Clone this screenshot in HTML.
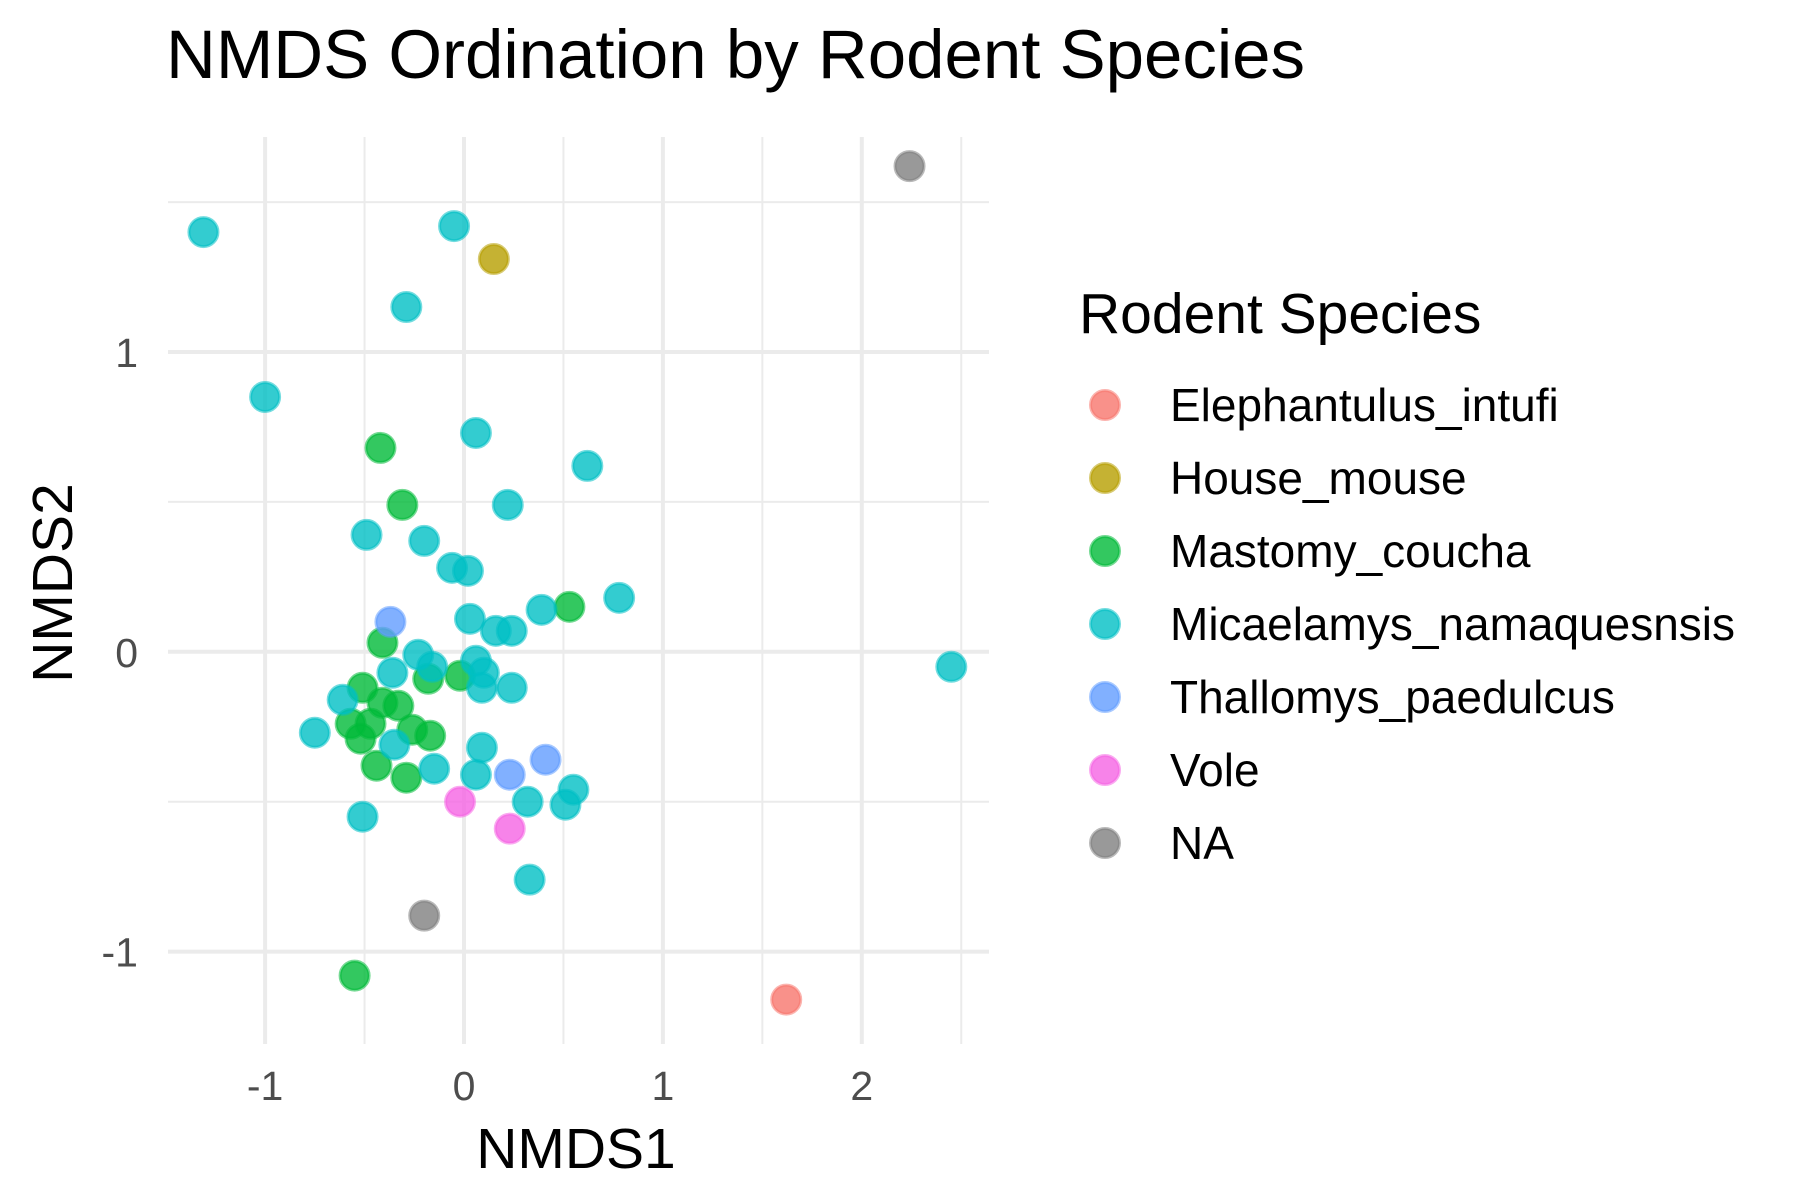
<!DOCTYPE html>
<html><head><meta charset="utf-8"><style>
body{margin:0;background:#fff;}
svg{display:block;font-family:"Liberation Sans",Arial,sans-serif;}
</style></head><body>
<svg id="chart" width="1800" height="1200" viewBox="0 0 1800 1200">
<text x="166" y="78" font-size="69" fill="#000">NMDS Ordination by Rodent Species</text>
<g id="grid"></g>
<g id="ticks"></g>
<g id="points"></g>
<text x="576" y="1168" font-size="57" text-anchor="middle" fill="#000">NMDS1</text>
<text transform="translate(72,583) rotate(-90)" font-size="57" text-anchor="middle" fill="#000">NMDS2</text>
<text x="1079" y="333" font-size="57" fill="#000">Rodent Species</text>
<g id="legend"></g>
</svg>
<script>
const species=["Elephantulus_intufi","House_mouse","Mastomy_coucha","Micaelamys_namaquesnsis","Thallomys_paedulcus","Vole","NA"];
const colors=["#F8766D","#B79F00","#00BA38","#00BFC4","#619CFF","#F564E3","#7F7F7F"];
const xTicks=[-1,0,1,2];
const yTicks=[-1,0,1];
const xMinor=[-1.5,-0.5,0.5,1.5,2.5];
const yMinor=[-1.5,-0.5,0.5,1.5];
const ptX=[1.62, 0.15, -0.42,-0.31,0.53,-0.41,-0.18,-0.02,-0.51,-0.41,-0.33,-0.47,-0.57,-0.52,-0.26,-0.17,-0.44,-0.29,-0.55,
-1.31,-0.05,-0.29,-1.00,0.06,0.62,0.22,-0.49,-0.20,-0.06,0.02,0.78,0.39,0.03,0.16,0.24,2.45,-0.23,-0.16,-0.36,0.06,0.10,0.09,0.24,-0.61,-0.75,-0.35,0.09,-0.15,0.06,-0.51,0.32,0.55,0.51,0.33,
-0.37,0.23,0.41, -0.02,0.23, 2.24,-0.20];
const ptY=[-1.16, 1.31, 0.68,0.49,0.15,0.03,-0.09,-0.08,-0.12,-0.17,-0.18,-0.24,-0.24,-0.29,-0.26,-0.28,-0.38,-0.42,-1.08,
1.40,1.42,1.15,0.85,0.73,0.62,0.49,0.39,0.37,0.28,0.27,0.18,0.14,0.11,0.07,0.07,-0.05,-0.01,-0.05,-0.07,-0.03,-0.07,-0.12,-0.12,-0.16,-0.27,-0.31,-0.32,-0.39,-0.41,-0.55,-0.50,-0.46,-0.51,-0.76,
0.10,-0.41,-0.36, -0.50,-0.59, 1.62,-0.88];
const ptGroup=[0,1,2,2,2,2,2,2,2,2,2,2,2,2,2,2,2,2,2,
3,3,3,3,3,3,3,3,3,3,3,3,3,3,3,3,3,3,3,3,3,3,3,3,3,3,3,3,3,3,3,3,3,3,3,
4,4,4,5,5,6,6];
const L=168,R=989,T=137,B=1044;
const sx=v=>464+v*198.9;
const sy=v=>651.8-v*299.8;
const NS="http://www.w3.org/2000/svg";
function mk(tag,attrs,parent){const e=document.createElementNS(NS,tag);for(const k in attrs)e.setAttribute(k,attrs[k]);parent.appendChild(e);return e;}
const grid=document.getElementById('grid'),ticks=document.getElementById('ticks'),pts=document.getElementById('points'),leg=document.getElementById('legend');
xMinor.forEach(v=>{const x=sx(v);if(x<L||x>R)return;const l=mk('line',{x1:x,x2:x,y1:T,y2:B,stroke:'#EBEBEB','stroke-width':2},grid);

});
yMinor.forEach(v=>{const y=sy(v);if(y<T||y>B)return;const l=mk('line',{x1:L,x2:R,y1:y,y2:y,stroke:'#EBEBEB','stroke-width':2},grid);

});
xTicks.forEach(v=>{const x=sx(v);const l=mk('line',{x1:x,x2:x,y1:T,y2:B,stroke:'#EBEBEB','stroke-width':4},grid);


const t=mk('text',{x:x,y:1100,'font-size':41,'text-anchor':'middle',fill:'#4D4D4D'},ticks);t.textContent=String(v);

});
yTicks.forEach(v=>{const y=sy(v);const l=mk('line',{x1:L,x2:R,y1:y,y2:y,stroke:'#EBEBEB','stroke-width':4},grid);


const t=mk('text',{x:138,y:y+15,'font-size':41,'text-anchor':'end',fill:'#4D4D4D'},ticks);t.textContent=String(v);

});
for(let i=0;i<ptX.length;i++){const c=mk('circle',{cx:sx(ptX[i]),cy:sy(ptY[i]),r:14.5,fill:colors[ptGroup[i]],'fill-opacity':0.8,stroke:colors[ptGroup[i]],'stroke-opacity':0.55,'stroke-width':3},pts);

}
species.forEach((s,i)=>{const y=405+i*73;
const g=mk('g',{},leg);


mk('circle',{cx:1105,cy:y,r:14.5,fill:colors[i],'fill-opacity':0.8,stroke:colors[i],'stroke-opacity':0.55,'stroke-width':3},g);
const t=mk('text',{x:1170,y:y+16,'font-size':46,fill:'#000'},g);t.textContent=s;});
</script>
</body></html>
